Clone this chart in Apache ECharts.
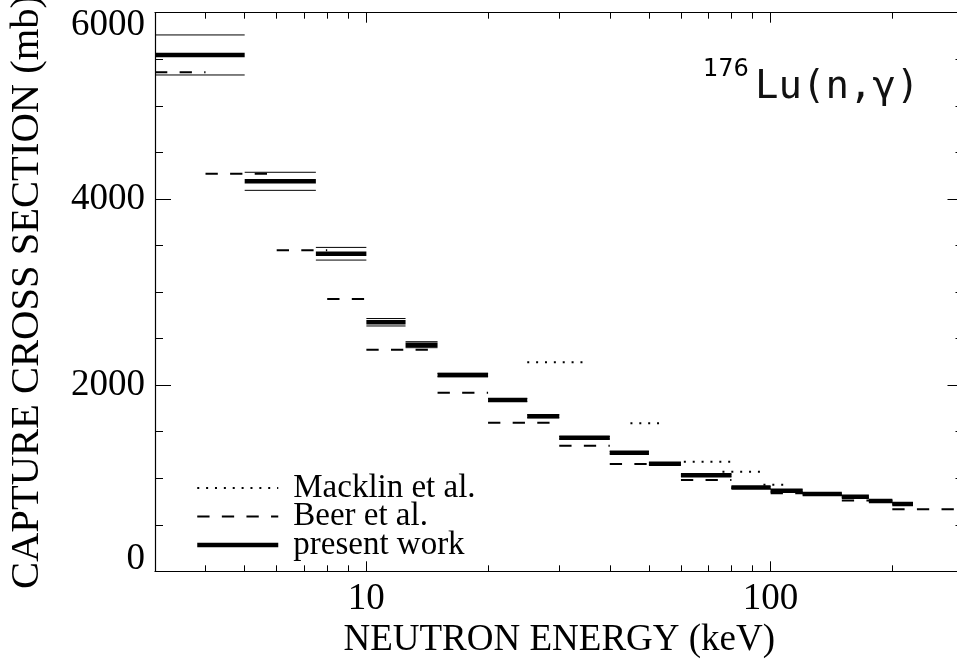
<!DOCTYPE html>
<html>
<head>
<meta charset="utf-8">
<script src="https://cdn.jsdelivr.net/npm/echarts@6/dist/echarts.min.js"></script>
<style>html,body{margin:0;padding:0;background:#fff}#c{width:957px;height:660px}</style>
</head>
<body>
<div id="c"></div>
<script>
// ---- data (energy bins in keV, cross sections in mb) ----
const presentLo  = [3, 5, 7.5, 10, 12.5, 15, 20, 25, 30, 40, 50, 60, 80, 100, 120, 150, 175, 200];
const presentHi  = [5, 7.5, 10, 12.5, 15, 20, 25, 30, 40, 50, 60, 80, 100, 120, 150, 175, 200, 225];
const presentVal = [5546, 4189, 3411, 2675, 2434, 2108, 1840, 1665, 1435, 1274, 1156, 1032, 900, 865, 830, 800, 755, 723];
const presentErr = [215, 97, 68, 40, 32, 18, 16, 15, 13, 12, 11, 10, 9, 9, 8, 8, 8, 7];

const beerLo  = [3, 4, 6, 8, 10, 15, 20, 30, 40, 60, 80, 100, 150, 200];
const beerHi  = [4, 6, 8, 10, 15, 20, 30, 40, 60, 80, 100, 150, 200, 300];
const beerVal = [5361, 4271, 3448, 2925, 2380, 1917, 1596, 1349, 1152, 981, 895, 838, 760, 666];

const macklinLo  = [25, 45, 61, 76, 96];
const macklinHi  = [35, 55, 80, 95, 108];
const macklinVal = [2245, 1589, 1177, 1070, 930];

const xMajorTicks = [10, 100];
const xMinorTicks = [4, 5, 6, 7, 8, 9, 20, 30, 40, 50, 60, 70, 80, 90, 200];
const seriesNames = ['Macklin et al.', 'Beer et al.', 'present work'];

// ---- helpers ----
function steps(lo, hi, val, off) {
  const d = [];
  for (let i = 0; i < lo.length; i++) {
    const v = val[i] + (off ? off[i] : 0);
    d.push([lo[i], v], [hi[i], v], [hi[i], null]);
  }
  return d;
}
const neg = presentErr.map(e => -e);

const serif = 'Liberation Serif';
const black = '#000';

function xAxisCfg(pos, ticks, len, showLine, showLabel) {
  return {
    type: 'log', logBase: 10, min: 3, max: 300, position: pos,
    axisLine: { show: showLine, lineStyle: { color: black, width: 1.2 } },
    axisTick: { show: true, inside: true, length: len, customValues: ticks, lineStyle: { color: black, width: 1 } },
    axisLabel: { show: showLabel, customValues: ticks, color: black, fontFamily: serif, fontSize: 37, margin: 9 },
    minorTick: { show: false },
    splitLine: { show: false }
  };
}

const xAxes = [
  Object.assign(xAxisCfg('bottom', xMajorTicks, 10, true, true), {
    name: 'NEUTRON ENERGY (keV)', nameLocation: 'middle', nameGap: 45,
    nameTextStyle: { color: black, fontFamily: serif, fontSize: 37 }
  }),
  xAxisCfg('bottom', xMinorTicks, 6, false, false),
  xAxisCfg('top', xMajorTicks, 10, true, false),
  xAxisCfg('top', xMinorTicks, 6, false, false)
];

function yAxisCfg(pos, showLabel) {
  return {
    type: 'value', min: 0, max: 6000, interval: 2000, position: pos,
    axisLine: { show: true, lineStyle: { color: black, width: 1.2 } },
    axisTick: { show: true, inside: true, length: 16, lineStyle: { color: black, width: 1 } },
    minorTick: { show: true, splitNumber: 4, length: 8, lineStyle: { color: black, width: 1 } },
    splitLine: { show: false },
    axisLabel: {
      show: showLabel, color: black, fontFamily: serif, fontSize: 37, margin: 10,
      formatter: v => v === 6000 ? '{t|6000}' : (v === 0 ? '{b|0}' : String(v)),
      rich: {
        t: { padding: [25, 0, 0, 0], color: black, fontFamily: serif, fontSize: 37 },
        b: { padding: [0, 0, 25, 0], color: black, fontFamily: serif, fontSize: 37 }
      }
    }
  };
}

const yAxes = [
  Object.assign(yAxisCfg('left', true), {
    name: 'CAPTURE CROSS SECTION (mb)', nameLocation: 'middle', nameGap: 107, nameRotate: 90,
    nameTextStyle: { color: black, fontFamily: serif, fontSize: 40.6 }
  }),
  yAxisCfg('right', false)
];

function lineSeries(name, data, width, type, z) {
  return {
    name: name, type: 'line', xAxisIndex: 0, yAxisIndex: 0,
    data: data, symbol: 'none', connectNulls: false, z: z,
    lineStyle: { color: black, width: width, type: type, cap: 'butt' },
    itemStyle: { color: black },
    emphasis: { disabled: true }, silent: true
  };
}

const option = {
  animation: false,
  backgroundColor: '#fff',
  textStyle: { fontFamily: serif },
  grid: { left: 155, right: -6.5, top: 12.7, bottom: 88.7, containLabel: false, outerBoundsMode: 'none' },
  xAxis: xAxes,
  yAxis: yAxes,
  legend: {
    data: seriesNames, orient: 'vertical', left: 195, top: 471.5, padding: 0,
    itemGap: -4.5, itemWidth: 81, itemHeight: 28, selectedMode: false,
    itemStyle: { color: 'rgba(0,0,0,0)', borderWidth: 0, opacity: 0 },
    lineStyle: { width: 'inherit', type: 'inherit', color: 'inherit' },
    textStyle: { color: black, fontFamily: serif, fontSize: 33, padding: [0, 0, 0, 10] }
  },
  graphic: [
    { type: 'text', x: 703, y: 70, silent: true,
      style: { text: '176', fontFamily: 'DejaVu Sans', fontSize: 24, fill: black, verticalAlign: 'middle' } },
    { type: 'text', x: 755, y: 87.5, silent: true,
      style: { text: 'Lu(n,γ)', fontFamily: 'DejaVu Sans Mono', fontSize: 39, fill: '#111', verticalAlign: 'middle' } }
  ],
  series: [
    lineSeries(seriesNames[0], steps(macklinLo, macklinHi, macklinVal), 2, [2, 6.87], 2),
    lineSeries(seriesNames[1], steps(beerLo, beerHi, beerVal), 2, [12.3, 12.3], 3),
    lineSeries('present work upper', steps(presentLo, presentHi, presentVal, presentErr), 1, 'solid', 4),
    lineSeries('present work lower', steps(presentLo, presentHi, presentVal, neg), 1, 'solid', 4),
    lineSeries(seriesNames[2], steps(presentLo, presentHi, presentVal), 4.5, 'solid', 5)
  ]
};

const chart = echarts.init(document.getElementById('c'), null, { renderer: 'canvas' });
chart.setOption(option);
</script>
</body>
</html>
